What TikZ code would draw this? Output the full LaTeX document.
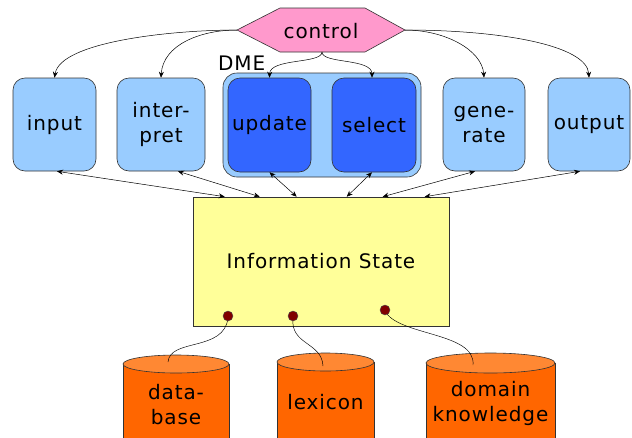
\documentclass[tikz,border=0pt]{standalone}
\usepackage{fontspec}
\setmainfont[LetterSpace=4.5]{DejaVu Sans}
\usetikzlibrary{arrows.meta}
\definecolor{lblue}{HTML}{99CCFF}
\definecolor{dblue}{HTML}{3366FF}
\definecolor{lyellow}{HTML}{FFFF99}
\definecolor{corange}{HTML}{FF6600}
\definecolor{torange}{HTML}{FF8833}
\definecolor{cpink}{HTML}{FF99CC}
\definecolor{dred}{HTML}{800000}
\tikzset{
  txt/.style={font=\fontsize{20}{25}\selectfont, align=center, inner sep=0pt},
  module/.style={draw=black!80, line width=0.6pt, rounded corners=12pt, fill=lblue, txt},
  dmebox/.style={draw=black!80, line width=0.6pt, rounded corners=12pt, fill=dblue, txt},
  arr/.style={-{Stealth[length=6pt,width=5pt]}, line width=0.5pt},
  darr/.style={{Stealth[length=6pt,width=5pt]}-{Stealth[length=6pt,width=5pt]}, line width=0.5pt},
  wire/.style={line width=0.45pt},
  dot/.style={circle, draw=black!70, line width=0.4pt, fill=dred, minimum size=10pt, inner sep=0pt},
  cylbody/.style={fill=corange},
  cyltop/.style={fill=torange, draw=black!80, line width=0.6pt}
}
\begin{document}
\begin{tikzpicture}[x=1pt,y=-1pt]
\useasboundingbox (0,0) rectangle (632,437);

% control hexagon
\draw[fill=cpink, draw=black!80, line width=0.6pt] (237,30) -- (280,8) -- (365,8) -- (405,30) -- (365,52) -- (280,52) -- cycle;
\node[txt] (control) at (321,31) {control};
\coordinate (ctlL) at (237,30);
\coordinate (ctlR) at (405,30);
\coordinate (ctlB) at (322,52);

% modules
\node[module, minimum width=83pt, minimum height=93pt] (input) at (54.5,124.5) {input};
\node[module, minimum width=88pt, minimum height=93pt] (interpret) at (161,124.5) {inter-\\pret};
\node[draw=black!80, line width=0.6pt, rounded corners=14pt, fill=lblue, minimum width=198pt, minimum height=104pt] (dme) at (322,125) {};
\node[txt, anchor=base west] (dmelabel) at (218,70) {DME};
\node[dmebox, minimum width=83pt, minimum height=94pt] (update) at (269.5,125) {update};
\node[dmebox, minimum width=84pt, minimum height=94pt] (select) at (374,125) {select};
\node[module, minimum width=82pt, minimum height=93pt] (generate) at (484,124.5) {gene-\\rate};
\node[module, minimum width=82pt, minimum height=93pt] (output) at (589,124.5) {output};

% information state
\node[draw=black!80, line width=0.6pt, fill=lyellow, minimum width=256pt, minimum height=129pt, txt] (info) at (321,261.5) {Information State};

% control arrows
\draw[arr] (ctlL) .. controls (170,30) and (60,42) .. (input.north);
\draw[arr] (ctlL) .. controls (200,30) and (163,45) .. (interpret.north);
\draw[arr] (ctlR) .. controls (445,30) and (482,50) .. (generate.north);
\draw[arr] (ctlR) .. controls (500,30) and (587,45) .. (output.north);
\draw[arr] (ctlB) .. controls (322,64) and (270,58) .. (update.north);
\draw[arr] (ctlB) .. controls (322,64) and (372,58) .. ([xshift=-2pt]select.north);

% double arrows
\draw[darr] ([xshift=2.5pt]input.south) -- ([xshift=32pt]info.north west);
\draw[darr] ([xshift=17pt]interpret.south) -- ([xshift=67pt]info.north west);
\draw[darr] (update.south) -- ([xshift=104pt]info.north west);
\draw[darr] ([xshift=-2pt]select.south) -- ([xshift=154pt]info.north west);
\draw[darr] ([xshift=-9pt]generate.south) -- ([xshift=190pt]info.north west);
\draw[darr] ([xshift=-9pt]output.south) -- ([xshift=232pt]info.north west);

% cylinders
% database
\fill[cylbody] (123,364) rectangle (229,440);
\draw[draw=black!80, line width=0.6pt] (123,364) -- (123,438) (229,364) -- (229,438);
\draw[cyltop] (176,364) ellipse [x radius=53, y radius=9];
\node[txt] (database) at (176,404.5) {data-\\base};
\coordinate (dbtop) at (168,362);
% lexicon
\fill[cylbody] (277,362) rectangle (374,440);
\draw[draw=black!80, line width=0.6pt] (277,362) -- (277,438) (374,362) -- (374,438);
\draw[cyltop] (325.5,362) ellipse [x radius=48.5, y radius=9];
\node[txt] (lexicon) at (325.5,402) {lexicon};
\coordinate (lextop) at (323,366);
% domain knowledge
\fill[cylbody] (426,363) rectangle (555,440);
\draw[draw=black!80, line width=0.6pt] (426,363) -- (426,438) (555,363) -- (555,438);
\draw[cyltop] (490.5,363) ellipse [x radius=64.5, y radius=10];
\node[txt] (domain) at (490.5,403.5) {domain\\knowledge};
\coordinate (domtop) at (473,365);

% wires and dots
\draw[wire] (228,318) .. controls (224,352) and (170,338) .. (dbtop);
\draw[wire] (293,318) .. controls (290,345) and (322,342) .. (lextop);
\draw[wire] (385,311) .. controls (398,336) and (476,332) .. (domtop);
\node[dot] (d1) at (228,316) {};
\node[dot] (d2) at (293,316) {};
\node[dot] (d3) at (385,310) {};
\end{tikzpicture}
\end{document}
